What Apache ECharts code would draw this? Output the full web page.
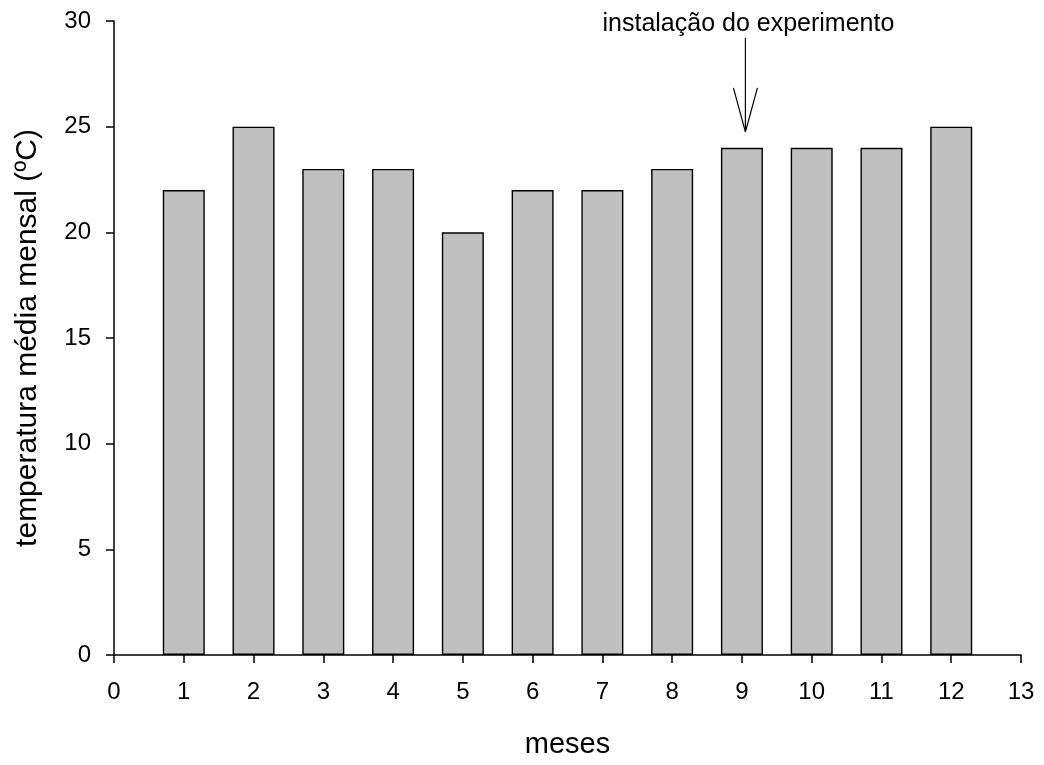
<!DOCTYPE html>
<html>
<head>
<meta charset="utf-8">
<script src="https://cdn.jsdelivr.net/npm/echarts@6/dist/echarts.min.js"></script>
<style>html,body{margin:0;padding:0;background:#fff}#c{width:1044px;height:765px}</style>
</head>
<body>
<div id="c"></div>
<script>
var months = [1, 2, 3, 4, 5, 6, 7, 8, 9, 10, 11, 12];
var temps = [22, 25, 23, 23, 20, 22, 22, 23, 24, 24, 24, 25];
var xTicks = [0, 1, 2, 3, 4, 5, 6, 7, 8, 9, 10, 11, 12, 13];
var yTicks = [0, 5, 10, 15, 20, 25, 30];
var annotText = 'instalação do experimento';
var annotX = [9.05];
var annotTip = [24.75];
var annotTop = [29.2];

var FONT = '"Liberation Sans", Arial, sans-serif';
var chart = echarts.init(document.getElementById('c'));
chart.setOption({
  animation: false,
  backgroundColor: '#fff',
  grid: { left: 114, right: 23, top: 21, bottom: 110, containLabel: false },
  xAxis: {
    type: 'value', min: 0, max: 13, interval: 1,
    name: 'meses', nameLocation: 'middle', nameGap: 75,
    nameTextStyle: { fontFamily: FONT, fontSize: 29, color: '#000' },
    axisLine: { lineStyle: { color: '#000', width: 1.5 } },
    axisTick: { show: true, inside: false, length: 8, lineStyle: { color: '#000', width: 1.5 } },
    axisLabel: { fontFamily: FONT, fontSize: 24, color: '#000', margin: 25 },
    splitLine: { show: false }
  },
  yAxis: {
    type: 'value', min: 0, max: 30, interval: 5,
    name: 'temperatura média mensal (ºC)', nameLocation: 'middle', nameGap: 71,
    nameTextStyle: { fontFamily: FONT, fontSize: 30, color: '#000' },
    axisLine: { show: true, lineStyle: { color: '#000', width: 1.5 } },
    axisTick: { show: true, inside: false, length: 8, lineStyle: { color: '#000', width: 1.5 } },
    axisLabel: { fontFamily: FONT, fontSize: 24, color: '#000', margin: 23 },
    splitLine: { show: false }
  },
  series: [
    {
      type: 'bar',
      data: months.map(function (m, i) { return [m, temps[i]]; }),
      barWidth: 42,
      itemStyle: { color: '#c0c0c0', borderColor: '#000', borderWidth: 1.4 },
      silent: true
    },
    {
      type: 'custom',
      clip: false,
      silent: true,
      data: annotX.map(function (x, i) { return [x, annotTip[i], annotTop[i]]; }),
      renderItem: function (params, api) {
        var tip = api.coord([api.value(0), api.value(1)]);
        var top = api.coord([api.value(0), api.value(2)]);
        var st = { stroke: '#000', lineWidth: 1.2 };
        return {
          type: 'group',
          children: [
            { type: 'line', shape: { x1: top[0], y1: top[1], x2: tip[0], y2: tip[1] }, style: st },
            { type: 'line', shape: { x1: tip[0] - 12, y1: tip[1] - 44, x2: tip[0], y2: tip[1] }, style: st },
            { type: 'line', shape: { x1: tip[0] + 12, y1: tip[1] - 44, x2: tip[0], y2: tip[1] }, style: st },
            { type: 'text', x: tip[0] + 3, y: top[1] - 14, style: { text: annotText, fontFamily: FONT, fontSize: 25, fill: '#000', align: 'center', verticalAlign: 'middle' } }
          ]
        };
      }
    }
  ]
});
</script>
</body>
</html>
